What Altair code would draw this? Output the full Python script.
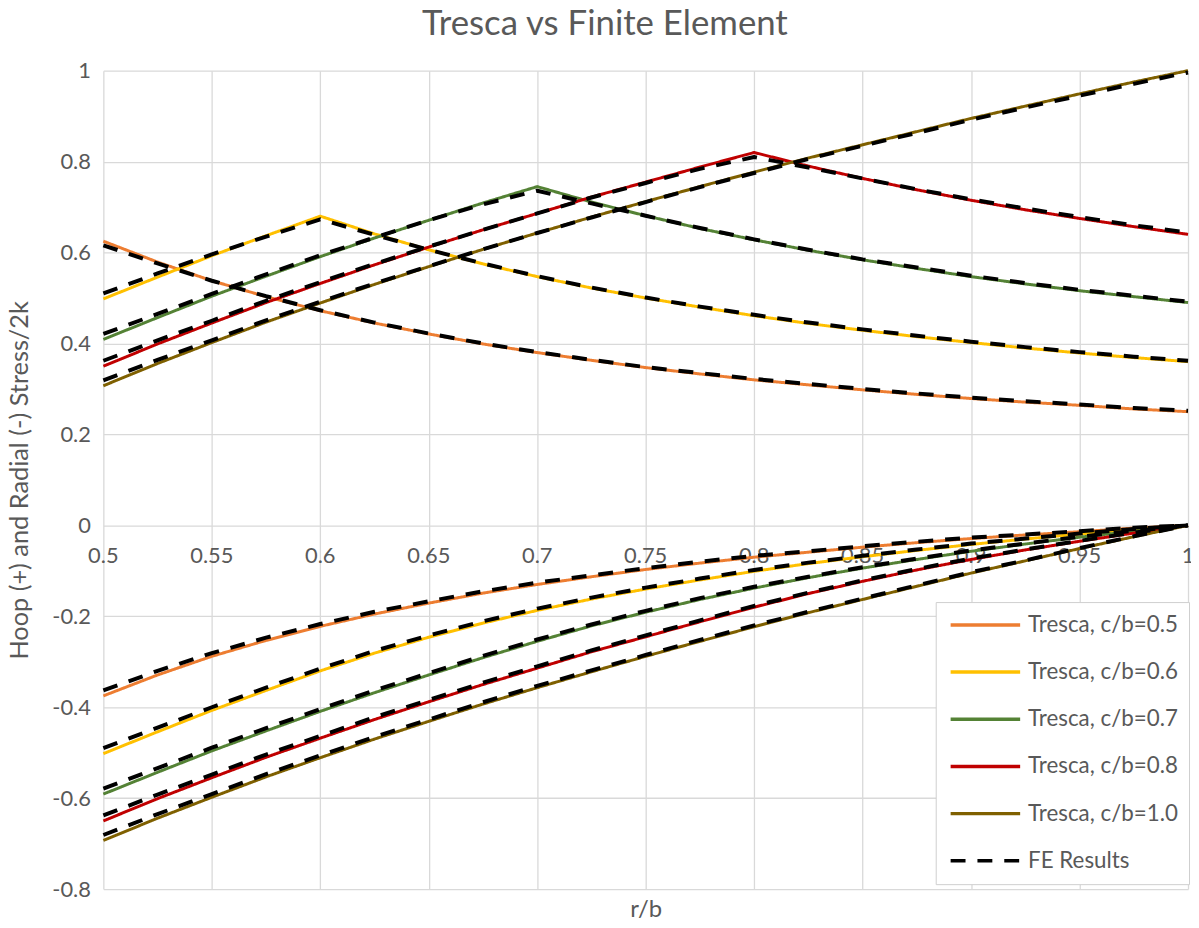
import altair as alt
import pandas as pd

# ---------------- data ----------------
r_b = [0.5, 0.525, 0.55, 0.575, 0.6, 0.625, 0.65, 0.675, 0.7, 0.725, 0.75,
       0.775, 0.8, 0.825, 0.85, 0.875, 0.9, 0.925, 0.95, 0.975, 1.0]

series_labels = ["Tresca, c/b=0.5", "Tresca, c/b=0.6", "Tresca, c/b=0.7",
                 "Tresca, c/b=0.8", "Tresca, c/b=1.0"]
fe_label = "FE Results"
series_colors = ["#ED7D31", "#FFC000", "#548235", "#C00000", "#7F6000"]
fe_color = "#000000"

hoop_tresca_c05 = [0.625, 0.579, 0.538, 0.503, 0.472, 0.445, 0.421, 0.399, 0.380, 0.363, 0.347, 0.333, 0.320, 0.309, 0.298, 0.288, 0.279, 0.271, 0.264, 0.256, 0.250]
hoop_tresca_c06 = [0.498, 0.546, 0.593, 0.637, 0.680, 0.641, 0.606, 0.575, 0.547, 0.522, 0.500, 0.480, 0.461, 0.444, 0.429, 0.415, 0.402, 0.390, 0.379, 0.369, 0.360]
hoop_tresca_c07 = [0.409, 0.457, 0.504, 0.548, 0.591, 0.632, 0.671, 0.709, 0.745, 0.711, 0.681, 0.653, 0.628, 0.605, 0.584, 0.565, 0.547, 0.531, 0.516, 0.503, 0.490]
hoop_tresca_c08 = [0.350, 0.399, 0.445, 0.490, 0.532, 0.573, 0.612, 0.650, 0.686, 0.722, 0.755, 0.788, 0.820, 0.790, 0.763, 0.738, 0.715, 0.694, 0.675, 0.657, 0.640]
hoop_tresca_c10 = [0.307, 0.356, 0.402, 0.447, 0.489, 0.530, 0.569, 0.607, 0.643, 0.678, 0.712, 0.745, 0.777, 0.808, 0.837, 0.866, 0.895, 0.922, 0.949, 0.975, 1.000]

radial_tresca_c05 = [-0.375, -0.329, -0.288, -0.253, -0.222, -0.195, -0.171, -0.149, -0.130, -0.113, -0.097, -0.083, -0.070, -0.059, -0.048, -0.038, -0.029, -0.021, -0.014, -0.006, 0.000]
radial_tresca_c06 = [-0.502, -0.454, -0.407, -0.363, -0.320, -0.281, -0.246, -0.215, -0.187, -0.162, -0.140, -0.120, -0.101, -0.084, -0.069, -0.055, -0.042, -0.030, -0.019, -0.009, 0.000]
radial_tresca_c07 = [-0.591, -0.543, -0.496, -0.452, -0.409, -0.368, -0.329, -0.291, -0.255, -0.221, -0.191, -0.163, -0.138, -0.115, -0.094, -0.075, -0.057, -0.041, -0.026, -0.013, 0.000]
radial_tresca_c08 = [-0.650, -0.601, -0.555, -0.510, -0.468, -0.427, -0.388, -0.350, -0.314, -0.278, -0.245, -0.212, -0.180, -0.150, -0.123, -0.098, -0.075, -0.054, -0.035, -0.017, 0.000]
radial_tresca_c10 = [-0.693, -0.644, -0.598, -0.553, -0.511, -0.470, -0.431, -0.393, -0.357, -0.322, -0.288, -0.255, -0.223, -0.192, -0.163, -0.134, -0.105, -0.078, -0.051, -0.025, 0.000]

hoop_fe_c05 = [0.616, 0.576, 0.538, 0.504, 0.473, 0.446, 0.422, 0.400, 0.381, 0.364, 0.348, 0.335, 0.322, 0.311, 0.300, 0.290, 0.281, 0.273, 0.266, 0.258, 0.252]
hoop_fe_c06 = [0.510, 0.554, 0.596, 0.635, 0.673, 0.639, 0.606, 0.576, 0.548, 0.523, 0.501, 0.481, 0.463, 0.446, 0.431, 0.417, 0.404, 0.392, 0.381, 0.371, 0.362]
hoop_fe_c07 = [0.421, 0.465, 0.509, 0.552, 0.594, 0.633, 0.671, 0.706, 0.736, 0.708, 0.681, 0.654, 0.629, 0.606, 0.585, 0.567, 0.549, 0.533, 0.518, 0.505, 0.492]
hoop_fe_c08 = [0.362, 0.407, 0.450, 0.494, 0.535, 0.575, 0.613, 0.650, 0.686, 0.721, 0.753, 0.784, 0.810, 0.787, 0.763, 0.739, 0.717, 0.697, 0.678, 0.660, 0.644]
hoop_fe_c10 = [0.319, 0.364, 0.407, 0.451, 0.492, 0.532, 0.570, 0.607, 0.643, 0.677, 0.711, 0.744, 0.775, 0.806, 0.835, 0.863, 0.892, 0.919, 0.945, 0.971, 0.996]

radial_fe_c05 = [-0.363, -0.320, -0.281, -0.247, -0.217, -0.190, -0.167, -0.145, -0.126, -0.110, -0.094, -0.080, -0.067, -0.057, -0.046, -0.036, -0.027, -0.020, -0.013, -0.005, 0.000]
radial_fe_c06 = [-0.490, -0.445, -0.400, -0.357, -0.315, -0.276, -0.242, -0.211, -0.183, -0.159, -0.137, -0.117, -0.098, -0.082, -0.067, -0.053, -0.040, -0.029, -0.018, -0.008, 0.000]
radial_fe_c07 = [-0.579, -0.534, -0.489, -0.446, -0.404, -0.363, -0.325, -0.287, -0.251, -0.218, -0.188, -0.160, -0.135, -0.113, -0.092, -0.073, -0.055, -0.040, -0.025, -0.012, 0.000]
radial_fe_c08 = [-0.638, -0.592, -0.548, -0.504, -0.463, -0.422, -0.384, -0.346, -0.310, -0.275, -0.242, -0.209, -0.177, -0.148, -0.121, -0.096, -0.073, -0.053, -0.034, -0.016, 0.000]
radial_fe_c10 = [-0.681, -0.635, -0.591, -0.547, -0.506, -0.465, -0.427, -0.389, -0.353, -0.319, -0.285, -0.252, -0.220, -0.190, -0.161, -0.132, -0.103, -0.077, -0.050, -0.024, 0.000]

x_ticks = [0.5, 0.55, 0.6, 0.65, 0.7, 0.75, 0.8, 0.85, 0.9, 0.95, 1.0]
x_tick_labels = ["0.5", "0.55", "0.6", "0.65", "0.7", "0.75", "0.8", "0.85", "0.9", "0.95", "1"]
y_ticks = [-0.8, -0.6, -0.4, -0.2, 0.0, 0.2, 0.4, 0.6, 0.8, 1.0]

# ---------------- table ----------------
tresca_hoop = [hoop_tresca_c05, hoop_tresca_c06, hoop_tresca_c07, hoop_tresca_c08, hoop_tresca_c10]
tresca_radial = [radial_tresca_c05, radial_tresca_c06, radial_tresca_c07, radial_tresca_c08, radial_tresca_c10]
fe_hoop = [hoop_fe_c05, hoop_fe_c06, hoop_fe_c07, hoop_fe_c08, hoop_fe_c10]
fe_radial = [radial_fe_c05, radial_fe_c06, radial_fe_c07, radial_fe_c08, radial_fe_c10]

rows_t, rows_f = [], []
for i, lab in enumerate(series_labels):
    for part, vals in (("hoop", tresca_hoop[i]), ("radial", tresca_radial[i])):
        for rv, sv in zip(r_b, vals):
            rows_t.append({"r": rv, "stress": sv, "series": lab, "line": f"T{i}{part}"})
    for part, vals in (("hoop", fe_hoop[i]), ("radial", fe_radial[i])):
        for rv, sv in zip(r_b, vals):
            rows_f.append({"r": rv, "stress": sv, "series": fe_label, "line": f"F{i}{part}"})

df_t = pd.DataFrame(rows_t)
df_f = pd.DataFrame(rows_f)
df_xlab = pd.DataFrame({"r": x_ticks, "stress": [0.0] * len(x_ticks), "label": x_tick_labels})

# ---------------- chart ----------------
FONT = "Lato"
TXT = "#595959"
GRID = "#D9D9D9"
W, H = 1092, 824
Y_MIN, Y_MAX = -0.8, 1.0

x_scale = alt.Scale(domain=[0.5, 1.0], nice=False, zero=False)
y_scale = alt.Scale(domain=[Y_MIN, Y_MAX], nice=False, zero=False)

x_enc = alt.X(
    "r:Q", scale=x_scale,
    axis=alt.Axis(
        values=x_ticks, labels=False, grid=True, ticks=False, domain=False,
        gridColor=GRID, gridWidth=1.3,
        title="r/b", titleFontSize=24, titleFont=FONT, titleColor=TXT,
        titleFontWeight="normal", titleY=21, titleBaseline="middle",
    ),
)
y_enc = alt.Y(
    "stress:Q", scale=y_scale,
    axis=alt.Axis(
        values=y_ticks, labelExpr="'' + round(datum.value * 10) / 10",
        grid=True, ticks=False, domain=False, gridColor=GRID, gridWidth=1.3,
        labelPadding=13, labelFontSize=22, labelFont=FONT, labelColor=TXT,
        title="Hoop (+) and Radial (-) Stress/2k", titleFontSize=25.5,
        titleFont=FONT, titleColor=TXT, titleFontWeight="normal",
        titleX=-84, titleY=H / 2, titleBaseline="middle", titleAlign="center",
    ),
)

legend = alt.Legend(
    orient="none", legendX=838, legendY=535,
    symbolType="stroke", symbolSize=4900, symbolStrokeWidth=3.5, symbolOffset=2,
    clipHeight=24,
    labelFontSize=22.5, labelFont=FONT, labelColor=TXT, labelOffset=6, labelLimit=0,
    padding=11, rowPadding=23.5, strokeColor="#CFCFCF", fillColor="white",
)

color_enc = alt.Color("series:N", scale=alt.Scale(
    domain=series_labels + [fe_label], range=series_colors + [fe_color]),
    title=None, legend=legend)
dash_enc = alt.StrokeDash("series:N", scale=alt.Scale(
    domain=series_labels + [fe_label], range=[[1, 0]] * 5 + [[15, 12]]),
    title=None, legend=legend)

xlabels = alt.Chart(df_xlab).mark_text(
    font=FONT, fontSize=22, color=TXT, baseline="top", align="center", dy=21
).encode(x=x_enc, y=y_enc, text="label:N")
tresca = alt.Chart(df_t).mark_line(strokeWidth=3, strokeJoin="round").encode(
    x=x_enc, y=y_enc, color=color_enc, strokeDash=dash_enc, detail="line:N"
)
fe = alt.Chart(df_f).mark_line(strokeWidth=4, strokeJoin="round").encode(
    x=x_enc, y=y_enc, color=color_enc, strokeDash=dash_enc, detail="line:N"
)

chart = (
    alt.layer(xlabels, tresca, fe)
    .properties(
        width=W, height=H,
        autosize=alt.AutoSizeParams(type="none"),
        padding={"left": 96, "top": 60, "right": 3, "bottom": 28},
        title=alt.TitleParams(
            "Tresca vs Finite Element", fontSize=35, font=FONT, color=TXT,
            fontWeight="normal", anchor="middle", offset=18, dx=-41,
        ),
    )
    .configure(background="white")
    .configure_view(stroke=None)
)

chart.save("out.html", embed_options={"renderer": "svg", "actions": False})
